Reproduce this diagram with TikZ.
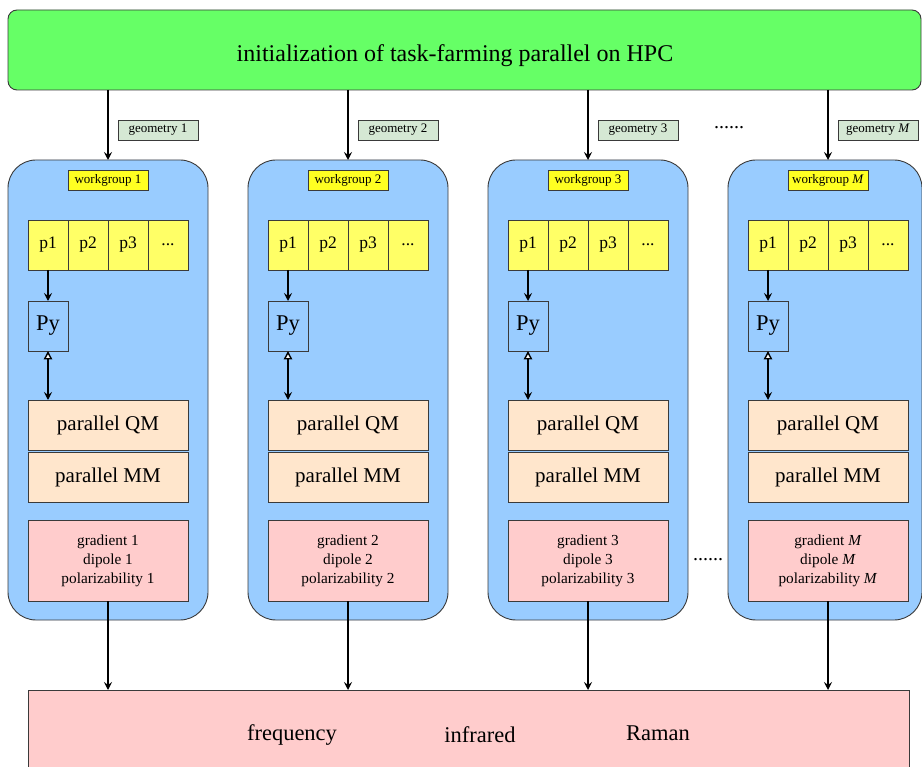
\documentclass[tikz,border=0pt]{standalone}
\usepackage{fontspec}
\setmainfont{Liberation Serif}
\usetikzlibrary{arrows.meta}
\definecolor{cgreen}{HTML}{66FF66}
\definecolor{cblue}{HTML}{99CCFF}
\definecolor{cyelcell}{HTML}{FFFF66}
\definecolor{cyellab}{HTML}{FFFF22}
\definecolor{cgeo}{HTML}{D5E8D4}
\definecolor{cpeach}{HTML}{FFE6CC}
\definecolor{cpink}{HTML}{FFCCCC}
\definecolor{cborder}{HTML}{3A3A3A}
\newcommand\myfs[2]{\fontsize{#1}{#2}\selectfont}
\tikzset{
  base/.style={draw=cborder, line width=0.9pt, inner sep=0pt, outer sep=0pt, align=center},
  greenbox/.style={base, fill=cgreen, rounded corners=9pt},
  wgbox/.style={base, fill=cblue, rounded corners=28pt, minimum height=460},
  geolab/.style={base, fill=cgeo, minimum width=80, minimum height=20, font=\myfs{13}{15}},
  wglab/.style={base, fill=cyellab, minimum width=80, minimum height=20, font=\myfs{13}{15}},
  pcell/.style={base, fill=cyelcell, minimum width=40, minimum height=50, font=\myfs{17.5}{20}},
  pybox/.style={base, fill=cblue, minimum width=40, minimum height=50, font=\myfs{22.5}{24}},
  mbox/.style={base, fill=cpeach, minimum width=160, minimum height=50, font=\myfs{21}{24}},
  resbox/.style={base, fill=cpink, minimum width=160, minimum height=81, font=\myfs{15.3}{19}},
  outbox/.style={base, fill=cpink},
  bigtxt/.style={font=\myfs{22.5}{26}, inner sep=0pt},
  arr/.style={line width=1.6pt, -{Stealth[length=8pt,width=8pt,inset=3pt]}},
  dbl/.style={line width=1.6pt, {Triangle[open,fill=white,length=8.5pt,width=8.5pt,line width=1.4pt]}-{Stealth[length=8pt,width=8pt,inset=3pt]}},
  dotstxt/.style={font=\myfs{20}{22}, inner sep=0pt}
}
\begin{document}
\begin{tikzpicture}[x=1pt,y=-1pt]
\useasboundingbox (0,0) rectangle (922,767);
\clip (0,0) rectangle (922,767);
\fill[white] (0,0) rectangle (922,767);

\node[greenbox, minimum width=913, minimum height=80] (init) at (464.5,50) {};
\node[font=\myfs{24}{28}, inner sep=0pt] (title) at (455,56) {initialization of task-farming parallel on HPC};

\node[outbox, minimum width=881, minimum height=110] (res) at (468.5,745) {};
\node[bigtxt] (tfreq) at (292,735) {frequency};
\node[bigtxt] (tir) at (480,735) {infrared};
\node[bigtxt] (tram) at (658,733) {Raman};

\foreach \i/\lab in {1/1,2/2,3/3,4/\textit{M}}{
  \pgfmathsetmacro\dx{240*(\i-1)}
  \ifnum\i=4
    \node[wgbox, minimum width=194] (wg\i) at (825,390) {};
  \else
    \node[wgbox, minimum width=200] (wg\i) at (108+\dx,390) {};
  \fi
  \node[geolab] (geo\i) at (158+\dx,130) {geometry \lab};
  \node[wglab] (wl\i) at (108+\dx,180) {workgroup \lab};
  \node[pcell] (pa\i) at (48+\dx,245) {p1};
  \node[pcell] (pb\i) at (88+\dx,245) {p2};
  \node[pcell] (pc\i) at (128+\dx,245) {p3};
  \node[pcell] (pd\i) at (168+\dx,245) {...};
  \node[pybox] (py\i) at (48+\dx,326) {Py};
  \node[mbox] (qm\i) at (108+\dx,425) {parallel QM};
  \node[mbox] (mm\i) at (108+\dx,477) {parallel MM};
  \node[resbox] (gr\i) at (108+\dx,560.5) {gradient \lab\\dipole \lab\\polarizability \lab};
  \draw[arr] (init.south -| qm\i.north) -- (qm\i.north |- wg\i.north);
  \draw[arr] (pa\i.south) -- (py\i.north);
  \draw[dbl] (py\i.south) -- (py\i.south |- qm\i.north);
  \draw[arr] (gr\i.south) -- (gr\i.south |- res.north);
}

\node[dotstxt] (dotsA) at (729,128) {......};
\node[dotstxt] (dotsB) at (708,560) {......};
\end{tikzpicture}
\end{document}
